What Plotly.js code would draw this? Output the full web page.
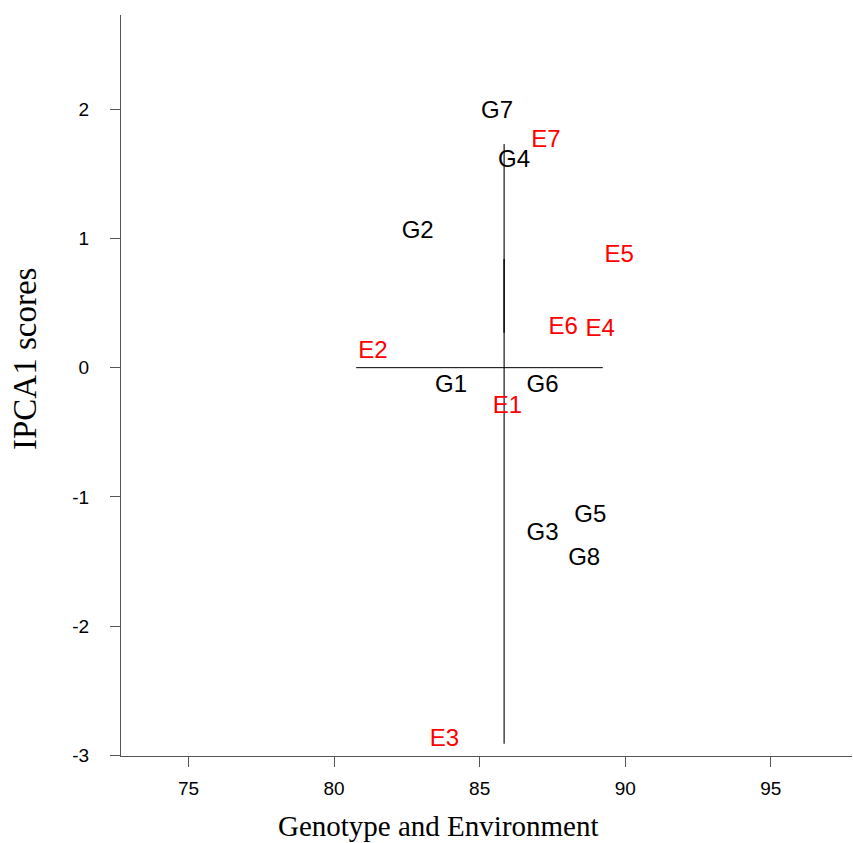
<!DOCTYPE html>
<html>
<head>
<meta charset="utf-8">
<script src="https://cdn.plot.ly/plotly-3.0.1.min.js"></script>
<style>html,body{margin:0;padding:0;background:#fff;}#chart{width:853px;height:843px;}</style>
</head>
<body>
<div id="chart"></div>
<script>
// Genotype labels and positions (mean yield, IPCA1 score)
const genoLabels = ["G1","G2","G3","G4","G5","G6","G7","G8"];
const genoMean   = [84.02, 82.87, 87.16, 86.18, 88.80, 87.16, 85.60, 88.59];
const genoIPCA1  = [-0.14, 1.05, -1.29, 1.60, -1.145, -0.145, 1.975, -1.48];

// Environment labels and positions
const envLabels = ["E1","E2","E3","E4","E5","E6","E7"];
const envMean   = [85.95, 81.33, 83.79, 89.14, 89.79, 87.87, 87.28];
const envIPCA1  = [-0.305, 0.125, -2.885, 0.29, 0.865, 0.305, 1.755];

// Reference lines: grand mean (vertical) and IPCA1 = 0 (horizontal)
const vLineX = [85.84, 85.84];
const vLineY = [1.73, -2.91];
const vLineThickY = [0.84, 0.27];
const hLineX = [80.76, 89.23];
const hLineY = [0, 0];

const xTicks = [75, 80, 85, 90, 95];
const yTicks = [-3, -2, -1, 0, 1, 2];

const xTitle = "Genotype and Environment";
const yTitle = "IPCA1 scores";

const sans = "Liberation Sans, Arial, Helvetica, sans-serif";
const serif = "Liberation Serif, Times New Roman, serif";

const traces = [
  {x: vLineX, y: vLineY, mode: "lines", line: {color: "#000", width: 1.1}, hoverinfo: "skip", showlegend: false},
  {x: vLineX, y: vLineThickY, mode: "lines", line: {color: "#000", width: 1.3}, hoverinfo: "skip", showlegend: false},
  {x: hLineX, y: hLineY, mode: "lines", line: {color: "#000", width: 1}, hoverinfo: "skip", showlegend: false},
  {x: genoMean, y: genoIPCA1, text: genoLabels, mode: "text", textposition: "middle center",
   textfont: {family: sans, size: 24, color: "#000"}, showlegend: false},
  {x: envMean, y: envIPCA1, text: envLabels, mode: "text", textposition: "middle center",
   textfont: {family: sans, size: 24, color: "#ff0000"}, showlegend: false}
];

const layout = {
  width: 853, height: 843,
  margin: {l: 121, r: 1, t: 15, b: 87},
  paper_bgcolor: "#fff", plot_bgcolor: "#fff",
  showlegend: false,
  xaxis: {
    range: [72.68, 97.79], tickvals: xTicks, ticktext: xTicks.map(String),
    showgrid: false, zeroline: false, showline: true, linecolor: "#555", linewidth: 1,
    ticks: "outside", ticklen: 10, tickcolor: "#555", tickwidth: 1,
    ticklabelstandoff: 5,
    tickfont: {family: sans, size: 19, color: "#000"}
  },
  yaxis: {
    range: [-3.005, 2.729], tickvals: yTicks, ticktext: yTicks.map(String),
    showgrid: false, zeroline: false, showline: true, linecolor: "#555", linewidth: 1,
    ticks: "outside", ticklen: 10, tickcolor: "#555", tickwidth: 1,
    ticklabelstandoff: 17,
    tickfont: {family: sans, size: 19, color: "#000"}
  },
  annotations: [
    {text: xTitle, xref: "paper", yref: "paper", x: (438 - 121) / 731, y: (843 - 826 - 87) / 741,
     xanchor: "center", yanchor: "middle", showarrow: false,
     font: {family: serif, size: 29, color: "#000"}},
    {text: yTitle, xref: "paper", yref: "paper", x: (25 - 121) / 731, y: (756 - 359) / 741,
     xanchor: "center", yanchor: "middle", showarrow: false, textangle: -90,
     font: {family: serif, size: 33, color: "#000"}}
  ]
};

Plotly.newPlot("chart", traces, layout, {displayModeBar: false, staticPlot: true});
</script>
</body>
</html>
